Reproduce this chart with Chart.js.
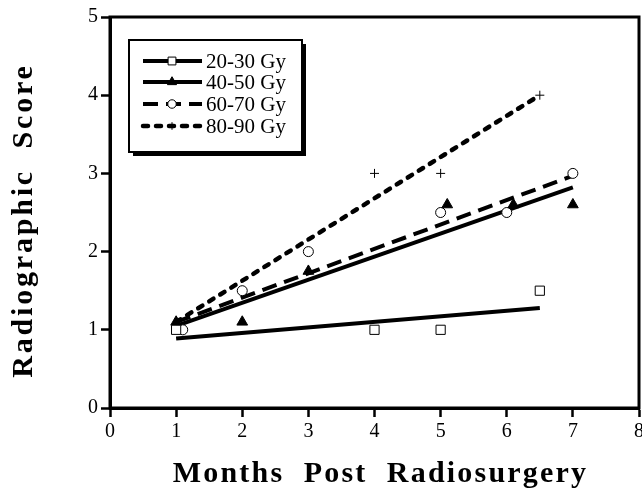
<!DOCTYPE html>
<html>
<head>
<meta charset="utf-8">
<script src="https://cdn.jsdelivr.net/npm/chart.js@4.4.1/dist/chart.umd.min.js"></script>
<style>
  html, body { margin: 0; padding: 0; background: #fff; }
  #wrap { width: 642px; height: 491px; position: relative; }
</style>
</head>
<body>
<div id="wrap"><canvas id="c" width="642" height="491"></canvas></div>
<script>
// ---- data ----
const seriesNames = ['20-30 Gy', '40-50 Gy', '60-70 Gy', '80-90 Gy'];

const months2030 = [1, 4, 5, 6.5];
const scores2030 = [1, 1, 1, 1.5];
const months4050 = [1, 2, 3, 5.1, 6.1, 7];
const scores4050 = [1.1, 1.1, 1.75, 2.6, 2.6, 2.6];
const months6070 = [1.1, 2, 3, 5, 6, 7];
const scores6070 = [1, 1.5, 2, 2.5, 2.5, 3];
const months8090 = [4, 5, 6.5];
const scores8090 = [3, 3, 4];

// fitted regression lines (end points)
const fitX2030 = [1, 6.5];
const fitY2030 = [0.89, 1.28];
const fitX4050 = [1, 7];
const fitY4050 = [1.05, 2.82];
const fitX6070 = [1, 7];
const fitY6070 = [1.1, 2.97];
const fitX8090 = [1, 6.5];
const fitY8090 = [1.1, 4.0];

const xTicks = [0, 1, 2, 3, 4, 5, 6, 7, 8];
const yTicks = [0, 1, 2, 3, 4, 5];
const xTitle = 'Months  Post  Radiosurgery';
const yTitle = 'Radiographic  Score';

// ---- build ----
const pts = (xs, ys) => xs.map((x, i) => ({ x: x, y: ys[i] }));
const styles = [
  { dash: [], width: 4, cap: 'butt', pstyle: 'rect', r: 6.5, fill: '#fff', pw: 1 },
  { dash: [], width: 4, cap: 'butt', pstyle: 'triangle', r: 6.2, fill: '#000', pw: 1 },
  { dash: [15, 8], width: 4, cap: 'butt', pstyle: 'circle', r: 5, fill: '#fff', pw: 1 },
  { dash: [5, 8], width: 4.5, cap: 'round', pstyle: 'cross', r: 4.5, fill: '#000', pw: 1 }
];

const fits = [
  pts(fitX2030, fitY2030), pts(fitX4050, fitY4050),
  pts(fitX6070, fitY6070), pts(fitX8090, fitY8090)
];
const marks = [
  pts(months2030, scores2030), pts(months4050, scores4050),
  pts(months6070, scores6070), pts(months8090, scores8090)
];

const datasets = [];
fits.forEach((d, i) => {
  datasets.push({
    type: 'line', label: seriesNames[i] + ' fit', data: d,
    borderColor: '#000', borderWidth: styles[i].width, borderDash: styles[i].dash,
    borderCapStyle: styles[i].cap,
    pointRadius: 0, fill: false, tension: 0, order: 2
  });
});
marks.forEach((d, i) => {
  datasets.push({
    type: 'scatter', label: seriesNames[i], data: d,
    pointStyle: styles[i].pstyle, pointRadius: styles[i].r, pointHoverRadius: styles[i].r,
    pointBackgroundColor: styles[i].fill, pointBorderColor: '#000',
    pointBorderWidth: styles[i].pw, showLine: false, order: 1
  });
});

const frame = {
  id: 'frame',
  afterDraw(chart) {
    const { ctx, chartArea: a } = chart;
    ctx.save();
    ctx.strokeStyle = '#000';
    ctx.lineWidth = 3;
    ctx.strokeRect(a.left, a.top, a.right - a.left, a.bottom - a.top);
    ctx.restore();
  }
};

// spaced axis titles (the original uses a wide serif face)
const titleSpacing = {
  id: 'titleSpacing',
  beforeDraw(chart) {
    const cfg = { x: { ls: '2.2px', dx: 6, dy: 4 }, y: { ls: '2.8px', dx: 0, dy: 8 } };
    Object.keys(cfg).forEach((id) => {
      const s = chart.scales[id];
      if (!s || s._spacedTitle) return;
      const orig = s.drawTitle.bind(s);
      s.drawTitle = function () {
        const ctx = chart.ctx;
        ctx.save();
        ctx.letterSpacing = cfg[id].ls;
        ctx.translate(cfg[id].dx, cfg[id].dy);
        orig();
        ctx.restore();
      };
      s._spacedTitle = true;
    });
  }
};

const legendBox = {
  id: 'legendBox',
  afterDraw(chart) {
    const ctx = chart.ctx;
    const bx = 129, by = 40, bw = 173, bh = 112;
    ctx.save();
    ctx.fillStyle = '#000';
    ctx.fillRect(bx + 4, by + 4, bw, bh);
    ctx.fillStyle = '#fff';
    ctx.fillRect(bx, by, bw, bh);
    ctx.strokeStyle = '#000';
    ctx.lineWidth = 2;
    ctx.strokeRect(bx, by, bw, bh);
    const rows = [61, 82, 104, 126];
    seriesNames.forEach((name, i) => {
      const y = rows[i];
      const s = styles[i];
      ctx.save();
      ctx.strokeStyle = '#000';
      ctx.lineWidth = s.width;
      ctx.setLineDash(s.dash);
      ctx.lineCap = s.cap;
      ctx.beginPath();
      ctx.moveTo(143, y);
      ctx.lineTo(202, y);
      ctx.stroke();
      ctx.restore();
      ctx.save();
      ctx.fillStyle = s.fill;
      ctx.strokeStyle = '#000';
      ctx.lineWidth = 1;
      Chart.helpers.drawPoint(ctx, { pointStyle: s.pstyle, radius: s.r * 0.85, borderWidth: 1 }, 172, y);
      ctx.restore();
      ctx.fillStyle = '#000';
      ctx.font = '21px "Liberation Serif"';
      ctx.textBaseline = 'middle';
      ctx.textAlign = 'left';
      ctx.fillText(name, 206, y + 1);
    });
    ctx.restore();
  }
};

new Chart(document.getElementById('c'), {
  data: { datasets: datasets },
  plugins: [frame, legendBox, titleSpacing],
  options: {
    responsive: false,
    animation: false,
    layout: { autoPadding: false, padding: { top: 17, right: 3, left: 0, bottom: 0 } },
    plugins: { legend: { display: false }, tooltip: { enabled: false } },
    scales: {
      x: {
        type: 'linear', min: 0, max: 8,
        afterBuildTicks: (s) => { s.ticks = xTicks.map(v => ({ value: v })); },
        afterFit: (s) => { s.height = 83; s.paddingRight = 0; s.paddingLeft = 0; },
        grid: { display: true, drawOnChartArea: false, drawTicks: true, tickLength: 9, tickWidth: 2.5, tickColor: '#000' },
        border: { display: true, color: '#000', width: 3 },
        ticks: { color: '#000', padding: 3, font: { family: '"Liberation Serif"', size: 20 } },
        title: { display: true, text: xTitle, color: '#000', padding: { top: 0, bottom: 3 },
                 font: { family: '"Liberation Serif"', size: 30, weight: 'bold' } }
      },
      y: {
        type: 'linear', min: 0, max: 5,
        afterBuildTicks: (s) => { s.ticks = yTicks.map(v => ({ value: v })); },
        afterFit: (s) => { s.width = 110; },
        grid: { display: true, drawOnChartArea: false, drawTicks: true, tickLength: 9, tickWidth: 2.5, tickColor: '#000' },
        border: { display: true, color: '#000', width: 3 },
        ticks: { color: '#000', padding: 3, font: { family: '"Liberation Serif"', size: 20 } },
        title: { display: true, text: yTitle, color: '#000', padding: { top: 6, bottom: 0 },
                 font: { family: '"Liberation Serif"', size: 30, weight: 'bold' } }
      }
    }
  }
});
</script>
</body>
</html>
